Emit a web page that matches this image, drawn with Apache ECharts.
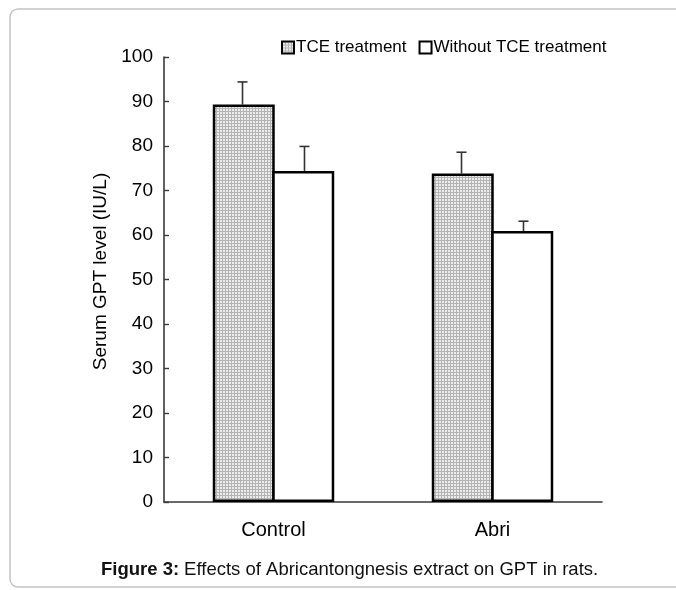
<!DOCTYPE html>
<html>
<head>
<meta charset="utf-8">
<script src="https://cdn.jsdelivr.net/npm/echarts@6/dist/echarts.min.js"></script>
<style>
html,body{margin:0;padding:0;background:#fff;}
#chart{width:676px;height:590px;}
</style>
</head>
<body>
<div id="chart"></div>
<script>
const categories = ['Control', 'Abri'];
const seriesNames = ['TCE treatment', 'Without TCE treatment'];
const tceMeans = [89.3, 73.8];
const tceUpper = [94.4, 78.6];
const withoutMeans = [74.4, 60.9];
const withoutUpper = [79.9, 63.1];
const yTicks = [0, 10, 20, 30, 40, 50, 60, 70, 80, 90, 100];

const FONT = '"Liberation Sans", Arial, sans-serif';

// hatched (fine grid) pattern
const pc = document.createElement('canvas');
pc.width = 3; pc.height = 3;
const pctx = pc.getContext('2d');
pctx.fillStyle = '#ececec';
pctx.fillRect(0, 0, 3, 3);
pctx.fillStyle = '#b4b4b4';
pctx.fillRect(0, 0, 1, 3);
pctx.fillRect(0, 0, 3, 1);
const hatch = { image: pc, repeat: 'repeat' };

const BAR_FRAC = 0.283;

function errRender(offsetSign, uppers, means) {
  return function (params, api) {
    const i = api.value(0);
    const top = api.coord([i, uppers[i]]);
    const base = api.coord([i, means[i]]);
    const band = api.size([1, 0])[0];
    const x = top[0] + offsetSign * band * BAR_FRAC / 2;
    const style = { stroke: '#333', lineWidth: 1.6 };
    return {
      type: 'group',
      children: [
        { type: 'line', shape: { x1: x, y1: base[1], x2: x, y2: top[1] }, style: style },
        { type: 'line', shape: { x1: x - 5, y1: top[1], x2: x + 5, y2: top[1] }, style: style }
      ]
    };
  };
}

const chart = echarts.init(document.getElementById('chart'), null, { renderer: 'canvas' });
chart.setOption({
  animation: false,
  backgroundColor: '#fff',
  textStyle: { fontFamily: FONT },
  graphic: [
    {
      type: 'rect', z: -1,
      shape: { x: 10, y: 9, width: 720, height: 578, r: 8 },
      style: { fill: 'none', stroke: '#c4c4c4', lineWidth: 1.5 }
    }
  ],
  title: {
    text: '{b|Figure 3:} {n|Effects of Abricantongnesis extract on GPT in rats.}',
    left: 96,
    top: 555,
    textStyle: {
      fontWeight: 'normal',
      rich: {
        b: { fontFamily: FONT, fontWeight: 'bold', fontSize: 18.5, color: '#111' },
        n: { fontFamily: FONT, fontWeight: 'normal', fontSize: 18.5, color: '#111' }
      }
    }
  },
  legend: {
    left: 276,
    top: 34,
    itemWidth: 12,
    itemHeight: 12,
    itemGap: 12,
    icon: 'rect',
    itemStyle: { borderWidth: 2, borderColor: '#000' },
    textStyle: { fontFamily: FONT, fontSize: 17, color: '#000', padding: [0, 0, 0, -3] },
    data: seriesNames
  },
  grid: { left: 164, right: 74, top: 57, bottom: 88, containLabel: false },
  xAxis: {
    type: 'category',
    data: categories,
    axisLine: { lineStyle: { color: '#3a3a3a', width: 1.6 } },
    axisTick: { inside: true, length: 6, lineStyle: { color: '#3a3a3a', width: 1.4 } },
    axisLabel: { fontFamily: FONT, fontSize: 20, color: '#000', margin: 18 },
    splitLine: { show: false }
  },
  yAxis: {
    type: 'value',
    min: 0, max: 100, interval: 10,
    name: 'Serum GPT level (IU/L)',
    nameLocation: 'middle',
    nameGap: 46,
    nameTextStyle: { fontFamily: FONT, fontSize: 19, color: '#000', padding: [0, 0, 0, 16] },
    axisLine: { show: true, lineStyle: { color: '#3a3a3a', width: 1.6 } },
    axisTick: { show: true, inside: true, length: 5, lineStyle: { color: '#3a3a3a', width: 1.4 } },
    axisLabel: { fontFamily: FONT, fontSize: 19, color: '#000', margin: 11,
      formatter: v => yTicks.includes(v) ? String(v) : '' },
    splitLine: { show: false }
  },
  series: [
    {
      name: seriesNames[0], type: 'bar', data: tceMeans,
      barWidth: (BAR_FRAC * 100) + '%', barGap: '-4%',
      itemStyle: { color: hatch, borderColor: '#000', borderWidth: 2.5 },
      z: 2
    },
    {
      name: seriesNames[1], type: 'bar', data: withoutMeans,
      barWidth: (BAR_FRAC * 100) + '%', barGap: '-4%',
      itemStyle: { color: '#fff', borderColor: '#000', borderWidth: 2.5 },
      z: 2
    },
    {
      type: 'custom', name: 'tceErr',
      data: tceUpper.map((v, i) => [i, v]),
      renderItem: errRender(-1, tceUpper, tceMeans),
      z: 3, silent: true
    },
    {
      type: 'custom', name: 'withoutErr',
      data: withoutUpper.map((v, i) => [i, v]),
      renderItem: errRender(1, withoutUpper, withoutMeans),
      z: 3, silent: true
    }
  ]
});
</script>
</body>
</html>
